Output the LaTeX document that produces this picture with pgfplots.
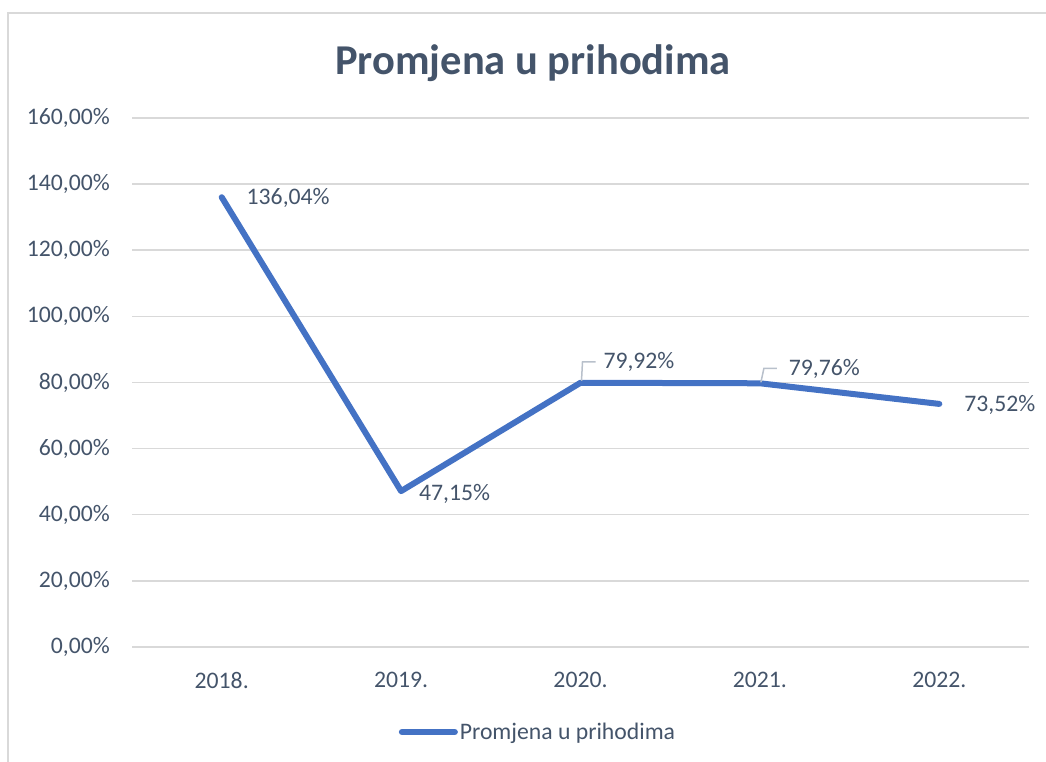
\documentclass[border=0pt]{standalone}
\usepackage{fontspec}
\setmainfont{Carlito}
\usepackage{pgfplots}
\pgfplotsset{compat=1.18}
\usepackage{pgfplotstable}
\definecolor{txt}{HTML}{44546A}
\definecolor{gridc}{HTML}{D9D9D9}
\definecolor{lineblue}{HTML}{4472C4}
\definecolor{leader}{HTML}{B8C0CB}
\definecolor{framec}{HTML}{D9D9D9}

\pgfplotstableread{
x y dx dy
0 136.04 22 -1
1 47.15 15 -3
2 79.92 20 21
3 79.76 26 14
4 73.52 22 -1
}\datatab

\begin{document}
\begin{tikzpicture}[font=\fontsize{23.7pt}{28pt}\selectfont, text=txt]
\path[use as bounding box] (0,0) rectangle (1046pt,762pt);
\draw[framec, line width=1.5pt] (8pt,0) -- (8pt,749pt) -- (1046pt,749pt);
\node[font=\fontsize{42.5pt}{50pt}\selectfont\bfseries, anchor=base, text=txt] at (533pt,687pt) {Promjena u prihodima};
\begin{axis}[
  at={(132pt,115pt)}, anchor=south west,
  scale only axis, width=897pt, height=529pt,
  xmin=-0.5, xmax=4.5, ymin=0, ymax=160,
  xtick={0,...,4},
  xticklabels={2018.,2019.,2020.,2021.,2022.},
  ytick={0,20,...,160},
  yticklabels={{0,00\%},{20,00\%},{40,00\%},{60,00\%},{80,00\%},{100,00\%},{120,00\%},{140,00\%},{160,00\%}},
  minor xtick={-0.5,0.5,...,4.5},
  xtick pos=bottom, ytick pos=left,
  tick align=outside,
  major tick length=0pt,
  minor tick length=10pt,
  xtick style={draw=none},
  ytick style={draw=none},
  minor tick style={draw=gridc, line width=1.5pt},
  axis line style={draw=none},
  ymajorgrids,
  major grid style={draw=gridc, line width=1.5pt},
  /pgf/number format/assume math mode=true,
  ticklabel style={font=\fontsize{23.7pt}{28pt}\selectfont, text=txt},
  yticklabel style={inner sep=0pt, anchor=east, xshift=-22pt},
  xticklabel style={inner sep=0pt, anchor=north, yshift=-25pt},
  clip=false,
  legend style={at={(0.4526,-0.1607)}, anchor=center, draw=none, fill=none,
    font=\fontsize{23.7pt}{28pt}\selectfont, text=txt,
    nodes={inner sep=2pt}},
  legend image code/.code={\draw[#1, line width=6pt, line cap=round] (0pt,0pt) -- (53pt,0pt);},
]
\addplot[lineblue, line width=6pt, line join=round, line cap=round, mark=none,
  point meta=y,
  visualization depends on={\thisrow{dx}\as\dx},
  visualization depends on={\thisrow{dy}\as\dy},
  nodes near coords={\pgfmathprintnumber[fixed, fixed zerofill, precision=2, use comma]{\pgfplotspointmeta}\%},
  nodes near coords style={anchor=west, inner sep=0pt, xshift=\dx pt, yshift=\dy pt, text=txt,
    font=\fontsize{23.7pt}{28pt}\selectfont, /pgf/number format/assume math mode=true},
] table[x=x, y=y] {\datatab};
\addlegendentry{Promjena u prihodima}
\draw[leader, line width=1.5pt] (axis cs:2,79.92) ++(1pt,2pt) -- ++(1pt,19pt) -- ++(13pt,0pt);
\draw[leader, line width=1.5pt] (axis cs:3,79.76) ++(1pt,1pt) -- ++(3pt,14pt) -- ++(13pt,0pt);
\end{axis}
\end{tikzpicture}
\end{document}
